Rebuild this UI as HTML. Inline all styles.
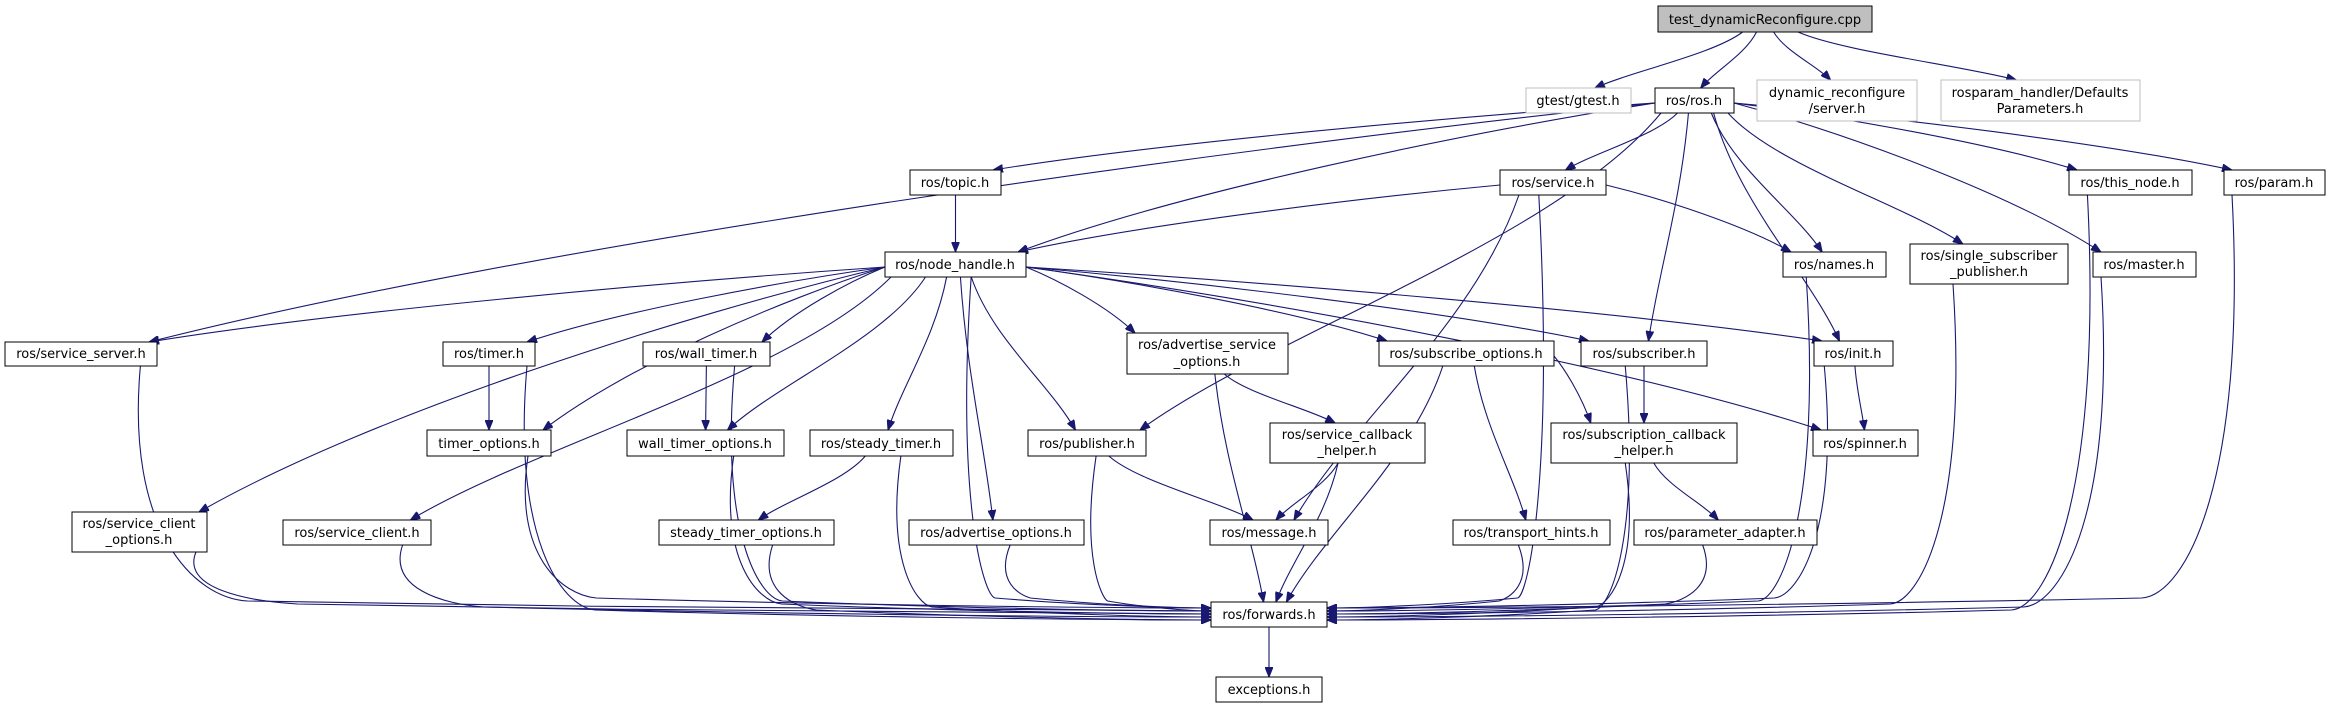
<!DOCTYPE html>
<html><head><meta charset="utf-8"><style>
html,body{margin:0;padding:0;background:#fff;width:2330px;height:708px;overflow:hidden}
svg{display:block}
text{font-family:"DejaVu Sans","Liberation Sans",sans-serif;font-size:13px;fill:#000}
</style></head><body>
<svg id="g" width="2330" height="708" viewBox="0 0 2330 708" xmlns="http://www.w3.org/2000/svg">
<defs><marker id="ah" viewBox="0 0 10 8" refX="10" refY="4" markerWidth="10" markerHeight="8" markerUnits="userSpaceOnUse" orient="auto"><path d="M0,0 L10,4 L0,8 z" fill="#191970" stroke="#191970"/></marker></defs>
<g id="edges" fill="none" stroke="#191970" stroke-width="1.1"></g>
<g id="nodes">
<rect x="1658" y="6" width="214" height="26" fill="#bfbfbf" stroke="#000"/><text x="1765" y="24" text-anchor="middle">test_dynamicReconfigure.cpp</text>
<rect x="1526" y="88" width="105" height="25" fill="#fff" stroke="#bfbfbf"/><text x="1578" y="105" text-anchor="middle">gtest/gtest.h</text>
<rect x="1655" y="88" width="79" height="25" fill="#fff" stroke="#000"/><text x="1694" y="105" text-anchor="middle">ros/ros.h</text>
<rect x="1757" y="80" width="160" height="41" fill="#fff" stroke="#bfbfbf"/><text x="1837" y="97" text-anchor="middle">dynamic_reconfigure</text><text x="1837" y="113" text-anchor="middle">/server.h</text>
<rect x="1941" y="80" width="199" height="41" fill="#fff" stroke="#bfbfbf"/><text x="2040" y="97" text-anchor="middle">rosparam_handler/Defaults</text><text x="2040" y="113" text-anchor="middle">Parameters.h</text>
<rect x="910" y="170" width="91" height="25" fill="#fff" stroke="#000"/><text x="955" y="187" text-anchor="middle">ros/topic.h</text>
<rect x="1500" y="170" width="106" height="25" fill="#fff" stroke="#000"/><text x="1553" y="187" text-anchor="middle">ros/service.h</text>
<rect x="2069" y="170" width="123" height="25" fill="#fff" stroke="#000"/><text x="2130" y="187" text-anchor="middle">ros/this_node.h</text>
<rect x="2224" y="170" width="101" height="25" fill="#fff" stroke="#000"/><text x="2274" y="187" text-anchor="middle">ros/param.h</text>
<rect x="885" y="252" width="141" height="25" fill="#fff" stroke="#000"/><text x="955" y="269" text-anchor="middle">ros/node_handle.h</text>
<rect x="1783" y="252" width="103" height="25" fill="#fff" stroke="#000"/><text x="1834" y="269" text-anchor="middle">ros/names.h</text>
<rect x="1910" y="244" width="158" height="40" fill="#fff" stroke="#000"/><text x="1989" y="260" text-anchor="middle">ros/single_subscriber</text><text x="1989" y="276" text-anchor="middle">_publisher.h</text>
<rect x="2093" y="252" width="103" height="25" fill="#fff" stroke="#000"/><text x="2144" y="269" text-anchor="middle">ros/master.h</text>
<rect x="5" y="342" width="152" height="24" fill="#fff" stroke="#000"/><text x="81" y="358" text-anchor="middle">ros/service_server.h</text>
<rect x="443" y="342" width="92" height="24" fill="#fff" stroke="#000"/><text x="489" y="358" text-anchor="middle">ros/timer.h</text>
<rect x="643" y="342" width="127" height="24" fill="#fff" stroke="#000"/><text x="706" y="358" text-anchor="middle">ros/wall_timer.h</text>
<rect x="1127" y="333" width="161" height="41" fill="#fff" stroke="#000"/><text x="1207" y="349" text-anchor="middle">ros/advertise_service</text><text x="1207" y="366" text-anchor="middle">_options.h</text>
<rect x="1379" y="341" width="175" height="25" fill="#fff" stroke="#000"/><text x="1466" y="358" text-anchor="middle">ros/subscribe_options.h</text>
<rect x="1581" y="341" width="126" height="25" fill="#fff" stroke="#000"/><text x="1644" y="358" text-anchor="middle">ros/subscriber.h</text>
<rect x="1814" y="341" width="79" height="25" fill="#fff" stroke="#000"/><text x="1853" y="358" text-anchor="middle">ros/init.h</text>
<rect x="427" y="430" width="124" height="26" fill="#fff" stroke="#000"/><text x="489" y="448" text-anchor="middle">timer_options.h</text>
<rect x="627" y="430" width="157" height="26" fill="#fff" stroke="#000"/><text x="705" y="448" text-anchor="middle">wall_timer_options.h</text>
<rect x="810" y="430" width="143" height="26" fill="#fff" stroke="#000"/><text x="881" y="448" text-anchor="middle">ros/steady_timer.h</text>
<rect x="1028" y="430" width="118" height="26" fill="#fff" stroke="#000"/><text x="1087" y="448" text-anchor="middle">ros/publisher.h</text>
<rect x="1270" y="423" width="155" height="40" fill="#fff" stroke="#000"/><text x="1347" y="439" text-anchor="middle">ros/service_callback</text><text x="1347" y="455" text-anchor="middle">_helper.h</text>
<rect x="1551" y="423" width="186" height="40" fill="#fff" stroke="#000"/><text x="1644" y="439" text-anchor="middle">ros/subscription_callback</text><text x="1644" y="455" text-anchor="middle">_helper.h</text>
<rect x="1813" y="430" width="105" height="26" fill="#fff" stroke="#000"/><text x="1865" y="448" text-anchor="middle">ros/spinner.h</text>
<rect x="72" y="512" width="135" height="40" fill="#fff" stroke="#000"/><text x="139" y="528" text-anchor="middle">ros/service_client</text><text x="139" y="544" text-anchor="middle">_options.h</text>
<rect x="283" y="520" width="148" height="25" fill="#fff" stroke="#000"/><text x="357" y="537" text-anchor="middle">ros/service_client.h</text>
<rect x="659" y="520" width="175" height="25" fill="#fff" stroke="#000"/><text x="746" y="537" text-anchor="middle">steady_timer_options.h</text>
<rect x="909" y="520" width="175" height="25" fill="#fff" stroke="#000"/><text x="996" y="537" text-anchor="middle">ros/advertise_options.h</text>
<rect x="1210" y="520" width="118" height="25" fill="#fff" stroke="#000"/><text x="1269" y="537" text-anchor="middle">ros/message.h</text>
<rect x="1453" y="520" width="157" height="25" fill="#fff" stroke="#000"/><text x="1531" y="537" text-anchor="middle">ros/transport_hints.h</text>
<rect x="1634" y="520" width="183" height="25" fill="#fff" stroke="#000"/><text x="1725" y="537" text-anchor="middle">ros/parameter_adapter.h</text>
<rect x="1211" y="602" width="116" height="25" fill="#fff" stroke="#000"/><text x="1269" y="619" text-anchor="middle">ros/forwards.h</text>
<rect x="1216" y="677" width="106" height="25" fill="#fff" stroke="#000"/><text x="1269" y="694" text-anchor="middle">exceptions.h</text>
</g>
</svg>
<script>
var N={
title:[1658,6,214,26],gtest:[1526,88,105,25],ros:[1655,88,79,25],dyn:[1757,80,160,41],rp:[1941,80,199,41],
topic:[910,170,91,25],service:[1500,170,106,25],thisn:[2069,170,123,25],param:[2224,170,101,25],
nh:[885,252,141,25],names:[1783,252,103,25],single:[1910,244,158,40],master:[2093,252,103,25],
ss:[5,342,152,24],timer:[443,342,92,24],wt:[643,342,127,24],aso:[1127,333,161,41],so:[1379,341,175,25],sub:[1581,341,126,25],init:[1814,341,79,25],
to:[427,430,124,26],wto:[627,430,157,26],st:[810,430,143,26],pub:[1028,430,118,26],scb:[1270,423,155,40],subcb:[1551,423,186,40],spin:[1813,430,105,26],
sco:[72,512,135,40],sc:[283,520,148,25],sto:[659,520,175,25],ao:[909,520,175,25],msg:[1210,520,118,25],th:[1453,520,157,25],pa:[1634,520,183,25],
fw:[1211,602,116,25],exc:[1216,677,106,25]};
var E=[["title","gtest"],["title","ros"],["title","dyn"],["title","rp"],
["ros","ss"],["ros","nh"],["ros","topic"],["ros","service"],["ros","pub"],["ros","names"],["ros","single"],["ros","master"],["ros","thisn"],["ros","param"],["ros","sub"],["ros","init"],
["topic","nh"],["service","nh"],["service","names"],["service","msg"],
["nh","ss"],["nh","sco"],["nh","sc"],["nh","timer"],["nh","to"],["nh","wt"],["nh","wto"],["nh","st"],["nh","ao"],["nh","pub"],["nh","aso"],["nh","so"],["nh","sub"],["nh","init"],["nh","spin"],
["timer","to"],["wt","wto"],["st","sto"],["pub","msg"],["aso","scb"],["scb","msg"],["so","th"],["so","subcb"],["sub","subcb"],["subcb","pa"],["init","spin"],
["fw","exc"]];
var F=["service","nh","ss","sco","sc","timer","to","wt","wto","st","sto","ao","pub","aso","scb","so","th","pa","subcb","sub","init","names","single","master","thisn","param"];
F.forEach(function(s){E.push([s,"fw"]);});
var g=document.getElementById("edges"),ns="http://www.w3.org/2000/svg";
function cl(v,a,b){return Math.max(a,Math.min(b,v));}
var li=0,ri=0;
E.forEach(function(e){
 var s=N[e[0]],t=N[e[1]],scx=s[0]+s[2]/2,tcx=t[0]+t[2]/2,sy=s[1]+s[3],sx,tx,ty,d;
 if(e[1]=="fw"&&(scx<1100||scx>1480)){
  var left=scx<1100,dir=left?-1:1;
  sx=cl(scx+(tcx-scx)*0.05,s[0]+8,s[0]+s[2]-8);
  tx=left?1211:1327; ty=left?608+(li++%5)*3:608+(ri++%5)*3;
  var px=sx+(tx-sx)*0.1, py=ty-10;
  d="M"+sx+","+sy+" C"+(sx+dir*15)+","+(sy+(py-sy)*0.7)+" "+(px-(tx-sx)*0.05)+","+(py-3)+" "+px+","+py+
    " C"+(px+(tx-sx)*0.3)+","+(py+6)+" "+(tx-(tx-sx)*0.2)+","+ty+" "+tx+","+ty;
 } else {
  tx=cl(tcx,t[0]+6,t[0]+t[2]-6); ty=t[1];
  var dy0=ty-sy;
  if(Math.abs(tcx-scx)>3*Math.abs(dy0)&&e[0]!="title"){
   var right=tcx>scx; sx=right?s[0]+s[2]:s[0]; var ssy=s[1]+s[3]*0.6;
   tx=cl(tcx+(scx-tcx)*0.3,t[0]+8,t[0]+t[2]-8);
   var dx=tx-sx,dy=ty-ssy;
   d="M"+sx+","+ssy+" C"+(sx+dx*0.3)+","+(ssy+dy*0.2)+" "+(sx+dx*0.75)+","+(ssy+dy*0.6)+" "+tx+","+ty;
  } else {
   sx=cl(scx+(tcx-scx)*0.12,s[0]+6,s[0]+s[2]-6);
   tx=cl(tcx+(sx-tcx)*0.1,t[0]+6,t[0]+t[2]-6);
   var dx=tx-sx,dy=ty-sy;
   d="M"+sx+","+sy+" C"+(sx+dx*0.2)+","+(sy+dy*0.4)+" "+(sx+dx*0.75)+","+(sy+dy*0.7)+" "+tx+","+ty;
  }
 }
 var p=document.createElementNS(ns,"path");p.setAttribute("d",d);p.setAttribute("marker-end","url(#ah)");g.appendChild(p);
});
</script>
</body></html>
